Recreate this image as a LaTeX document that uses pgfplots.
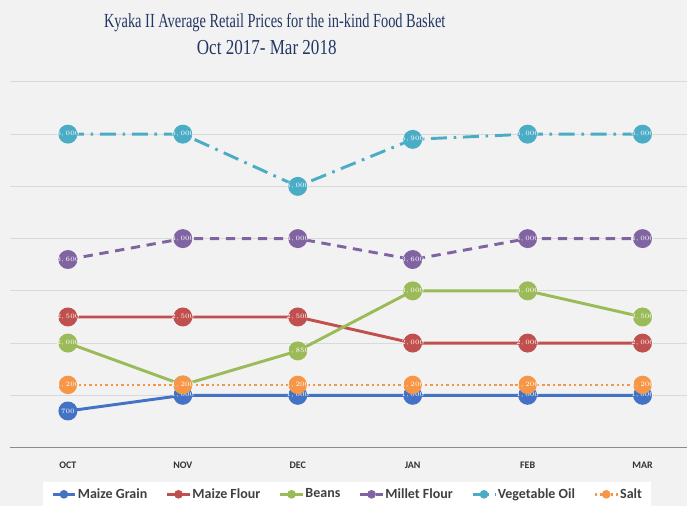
\documentclass[border=0pt]{standalone}
\usepackage{fontspec}
\setmainfont{Carlito}
\newfontfamily\titlefont[FakeStretch=0.72]{Liberation Serif}
\newfontfamily\titlefontb[FakeStretch=0.8]{Liberation Serif}
\usepackage{pgfplots}
\pgfplotsset{compat=1.18}
\pgfdeclarelayer{pagebg}
\pgfsetlayers{pagebg,main}

\definecolor{bg}{RGB}{242,242,242}
\definecolor{titleblue}{RGB}{35,55,100}
\definecolor{cgrain}{RGB}{68,114,196}
\definecolor{cflour}{RGB}{192,80,77}
\definecolor{cbeans}{RGB}{155,187,89}
\definecolor{cmillet}{RGB}{128,100,162}
\definecolor{coil}{RGB}{75,172,198}
\definecolor{csalt}{RGB}{247,150,70}

\begin{document}
\begin{tikzpicture}
\begin{axis}[
    name=ax,
    scale only axis,
    width=508.5pt, height=274.5pt,
    xmin=-0.504, xmax=5.39,
    ymin=0, ymax=7000,
    xtick={0,1,2,3,4,5},
    xticklabels={OCT,NOV,DEC,JAN,FEB,MAR},
    xticklabel style={font=\bfseries\fontsize{7.5}{8}\selectfont, text=black!80, yshift=-7.5pt},
    ytick={1000,2000,...,7000},
    yticklabels={},
    tick style={draw=none},
    axis line style={draw=none},
    ymajorgrids,
    grid style={draw=black!15, line width=0.8pt},
    extra y ticks={0},
    extra y tick labels={},
    extra y tick style={grid style={draw=black!45, line width=1pt}},
    clip=false,
    every axis plot/.append style={line width=2.2pt, mark=*, mark size=6pt},
    nodes near coords={\pgfmathprintnumber[fixed,1000 sep={{,}}]{\pgfplotspointmeta}},
    nodes near coords align={center},
    every node near coord/.append style={font=\bfseries\fontsize{4.5}{5}\selectfont, text=white, inner sep=0pt},
    legend columns=6,
    legend style={at={(0.498,-0.1612)}, anchor=south, fill=white, draw=none,
        font=\bfseries\fontsize{10.5}{11}\selectfont, text=black!75,
        inner xsep=6pt, inner ysep=2.5pt,
        nodes={inner xsep=1pt, inner ysep=2pt},
        /tikz/every even column/.append style={column sep=13pt}},
    legend image post style={mark size=2.3pt, line width=1.8pt},
]
\addplot[cgrain, mark options={solid}] coordinates {(0,700) (1,1000) (2,1000) (3,1000) (4,1000) (5,1000)};
\addlegendentry{Maize Grain}
\addplot[cflour, mark options={solid}] coordinates {(0,2500) (1,2500) (2,2500) (3,2000) (4,2000) (5,2000)};
\addlegendentry{Maize Flour}
\addplot[cbeans, mark options={solid}] coordinates {(0,2000) (1,1200) (2,1850) (3,3000) (4,3000) (5,2500)};
\addlegendentry{Beans}
\addplot[cmillet, dash pattern=on 7pt off 5pt, mark options={solid}] coordinates {(0,3600) (1,4000) (2,4000) (3,3600) (4,4000) (5,4000)};
\addlegendentry{Millet Flour}
\addplot[coil, dash pattern=on 12pt off 5pt on 2pt off 5pt, mark options={solid}] coordinates {(0,6000) (1,6000) (2,5000) (3,5900) (4,6000) (5,6000)};
\addlegendentry{Vegetable Oil}
\addplot[csalt, line width=1.8pt, dash pattern=on 1.8pt off 2.2pt, mark options={solid}] coordinates {(0,1200) (1,1200) (2,1200) (3,1200) (4,1200) (5,1200)};
\addlegendentry{Salt}
\end{axis}
% page: axis box lower-left sits 7.5pt from the left and 44.25pt from the bottom
\begin{pgfonlayer}{pagebg}
\fill[bg] ([shift={(-7.5pt,-44.25pt)}]ax.south west) rectangle ([shift={(0pt,61.5pt)}]ax.north east);
\end{pgfonlayer}
\node[font=\titlefont\fontsize{15}{17}\selectfont, text=titleblue] at ([shift={(198.75pt,44.75pt)}]ax.north west) {Kyaka II Average Retail Prices for the in-kind Food Basket};
\node[font=\titlefontb\fontsize{16}{17}\selectfont, text=titleblue] at ([shift={(192.75pt,26pt)}]ax.north west) {Oct 2017- Mar 2018};
\end{tikzpicture}
\end{document}
